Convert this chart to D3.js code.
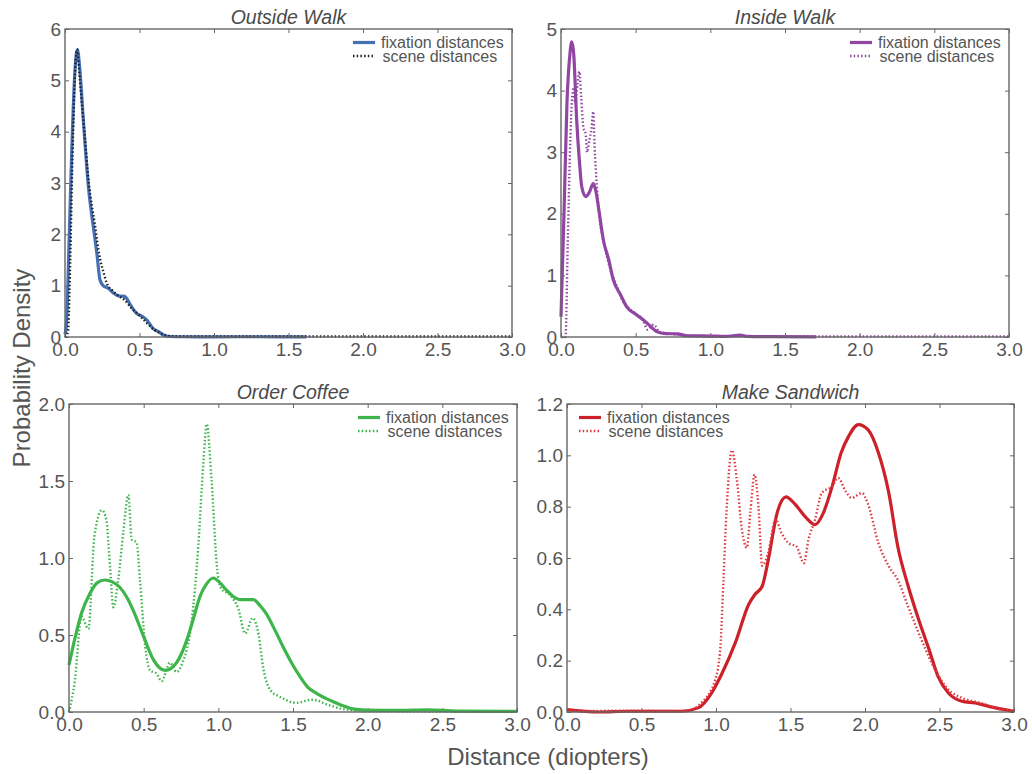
<!DOCTYPE html>
<html>
<head>
<meta charset="utf-8">
<script src="https://cdn.jsdelivr.net/npm/d3@7"></script>
<style>
  body { margin: 0; background: #fff; }
  svg { font-family: "Liberation Sans", Arial, sans-serif; }
  .tick text { fill: #555; font-size: 19px; }
  .tick line { stroke: #666; stroke-width: 1; }
  .title { fill: #4a4a4a; font-size: 19.5px; font-style: italic; text-anchor: middle; }
  .axlabel { fill: #555; font-size: 24px; text-anchor: middle; }
  .legend text { fill: #555; font-size: 16px; }
</style>
</head>
<body>
<svg id="chart" width="1032" height="774"></svg>
<script>

var xTicks = [0, 0.5, 1.0, 1.5, 2.0, 2.5, 3.0];
var legendLabels = ["fixation distances", "scene distances"];

// Outside Walk
var outsideFixation = [[0,0.05],[0.011,0.33],[0.025,1.6],[0.045,3.6],[0.067,5.2],[0.083,5.6],[0.1,5.2],[0.123,4.23],
  [0.157,2.93],[0.19,2.15],[0.215,1.6],[0.235,1.11],[0.257,1.0],[0.29,0.95],[0.324,0.86],[0.36,0.8],[0.40,0.79],
  [0.44,0.62],[0.48,0.46],[0.52,0.4],[0.55,0.33],[0.59,0.17],[0.63,0.1],[0.66,0.04],[0.7,0.01],[0.8,0.005],
  [1.0,0.004],[1.3,0.005],[1.62,0.003]];
var outsideScene = [[0.0,0],[0.02,0.1],[0.035,1.5],[0.05,3.5],[0.07,5.3],[0.082,5.6],[0.1,5.0],[0.13,4.0],[0.16,3.0],
  [0.2,2.2],[0.23,1.6],[0.26,1.25],[0.28,1.05],[0.32,0.9],[0.36,0.8],[0.4,0.72],[0.45,0.55],[0.5,0.42],[0.55,0.27],
  [0.6,0.14],[0.65,0.06],[0.7,0.02],[0.8,0.01],[1.5,0.01],[2.5,0.01],[3.0,0.01]];

// Inside Walk
var insideFixation = [[0,0.33],[0.02,2.0],[0.04,3.8],[0.06,4.6],[0.072,4.79],[0.085,4.6],[0.105,3.52],[0.125,2.8],
  [0.139,2.44],[0.165,2.28],[0.19,2.35],[0.216,2.49],[0.235,2.35],[0.25,2.12],[0.284,1.57],[0.32,1.25],[0.35,0.93],
  [0.4,0.68],[0.44,0.49],[0.5,0.37],[0.55,0.28],[0.6,0.17],[0.64,0.09],[0.7,0.055],[0.78,0.05],[0.85,0.02],
  [1.0,0.015],[1.1,0.01],[1.2,0.03],[1.25,0.01],[1.4,0.005],[1.71,0.003]];
var insideScene = [[0,0],[0.03,0.0],[0.045,1.5],[0.06,3.0],[0.075,3.9],[0.085,4.05],[0.095,3.8],[0.11,4.1],[0.123,4.31],
  [0.135,3.9],[0.15,3.4],[0.165,3.3],[0.175,3.0],[0.19,3.2],[0.205,3.4],[0.216,3.66],[0.225,3.1],[0.24,2.45],
  [0.26,1.9],[0.29,1.5],[0.33,1.1],[0.37,0.85],[0.41,0.6],[0.45,0.48],[0.5,0.38],[0.55,0.27],[0.58,0.12],[0.62,0.2],
  [0.66,0.08],[0.72,0.06],[0.8,0.03],[1.0,0.015],[1.5,0.01],[2.0,0.01],[3.0,0.01]];

// Order Coffee
var coffeeFixation = [[0,0.305],[0.04,0.48],[0.083,0.64],[0.14,0.77],[0.19,0.84],[0.24,0.857],[0.29,0.845],[0.34,0.81],
  [0.39,0.74],[0.43,0.66],[0.5,0.49],[0.565,0.34],[0.643,0.27],[0.72,0.32],[0.79,0.47],[0.84,0.63],[0.877,0.75],
  [0.92,0.83],[0.966,0.87],[1.01,0.84],[1.056,0.79],[1.1,0.75],[1.145,0.73],[1.19,0.73],[1.234,0.73],[1.28,0.69],
  [1.32,0.64],[1.38,0.53],[1.435,0.42],[1.49,0.32],[1.547,0.23],[1.6,0.16],[1.66,0.12],[1.77,0.067],[1.85,0.035],
  [1.9,0.02],[1.99,0.012],[2.2,0.01],[2.4,0.014],[2.6,0.006],[3.0,0.004]];
var coffeeScene = [[0,0],[0.04,0.21],[0.083,0.62],[0.13,0.54],[0.17,1.14],[0.22,1.31],[0.25,1.25],[0.275,0.94],
  [0.297,0.68],[0.33,0.86],[0.364,1.17],[0.397,1.41],[0.42,1.12],[0.453,1.1],[0.475,0.86],[0.51,0.43],[0.543,0.27],
  [0.586,0.25],[0.62,0.2],[0.676,0.32],[0.72,0.26],[0.76,0.32],[0.82,0.58],[0.866,1.08],[0.9,1.62],[0.922,1.87],
  [0.955,1.5],[0.99,0.95],[1.02,0.8],[1.078,0.76],[1.134,0.67],[1.18,0.51],[1.23,0.61],[1.27,0.5],[1.3,0.29],
  [1.35,0.14],[1.41,0.1],[1.52,0.06],[1.63,0.08],[1.74,0.045],[1.83,0.02],[2.0,0.005],[2.5,0.003],[3.0,0.003]];

// Make Sandwich
var sandwichFixation = [[0,0.009],[0.21,0],[0.41,0.003],[0.77,0.003],[0.88,0.016],[0.97,0.074],[1.04,0.15],[1.13,0.27],
  [1.22,0.42],[1.26,0.457],[1.31,0.49],[1.35,0.59],[1.41,0.775],[1.47,0.838],[1.53,0.81],[1.6,0.76],[1.665,0.73],
  [1.72,0.775],[1.78,0.88],[1.84,1.01],[1.89,1.074],[1.956,1.12],[2.02,1.1],[2.09,1.01],[2.16,0.853],[2.22,0.645],
  [2.29,0.49],[2.36,0.36],[2.43,0.243],[2.49,0.139],[2.56,0.074],[2.65,0.042],[2.74,0.035],[2.83,0.022],[3.0,0.003]];
var sandwichScene = [[0,0.003],[0.4,0.005],[0.8,0.004],[0.9,0.035],[0.995,0.126],[1.03,0.256],[1.05,0.515],[1.07,0.775],
  [1.107,1.02],[1.14,0.905],[1.174,0.71],[1.207,0.64],[1.23,0.775],[1.259,0.925],[1.285,0.8],[1.31,0.57],[1.35,0.62],
  [1.4,0.75],[1.44,0.697],[1.487,0.658],[1.54,0.645],[1.59,0.58],[1.62,0.67],[1.665,0.75],[1.71,0.853],[1.78,0.88],
  [1.82,0.912],[1.87,0.86],[1.91,0.834],[1.98,0.853],[2.02,0.81],[2.09,0.658],[2.16,0.567],[2.22,0.515],[2.29,0.41],
  [2.38,0.28],[2.47,0.165],[2.56,0.087],[2.65,0.055],[2.78,0.035],[2.87,0.016],[3.0,0.003]];

var panels = [
  {title: "Outside Walk", fix: outsideFixation, scene: outsideScene, color: "#4670b4", sceneColor: "#222",
   box: [65, 29, 512, 337], yMax: 6, yStep: 1, yFmt: "d", legend: "right"},
  {title: "Inside Walk", fix: insideFixation, scene: insideScene, color: "#9146a2", sceneColor: "#9146a2",
   box: [561, 29, 1009, 337], yMax: 5, yStep: 1, yFmt: "d", legend: "right"},
  {title: "Order Coffee", fix: coffeeFixation, scene: coffeeScene, color: "#3db54a", sceneColor: "#3db54a",
   box: [69, 404, 517, 712], yMax: 2, yStep: 0.5, yFmt: ".1f", legend: "right"},
  {title: "Make Sandwich", fix: sandwichFixation, scene: sandwichScene, color: "#cc2129", sceneColor: "#dd3a42",
   box: [567, 404, 1014, 712], yMax: 1.2, yStep: 0.2, yFmt: ".1f", legend: "left"}
];

var svg = d3.select("#chart");

function drawPanel(p) {
  var x0 = p.box[0], y0 = p.box[1], x1 = p.box[2], y1 = p.box[3];

  var xScale = d3.scaleLinear().domain([0, 3]).range([x0, x1]);
  var yScale = d3.scaleLinear().domain([0, p.yMax]).range([y1, y0]);
  var yTicks = d3.range(0, p.yMax + p.yStep / 2, p.yStep);

  var g = svg.append("g");

  // axes with inward ticks on all four sides
  g.append("g")
   .attr("transform", "translate(0," + y1 + ")")
   .call(d3.axisBottom(xScale).tickValues(xTicks).tickFormat(d3.format(".1f")).tickSize(-4).tickPadding(6))
   .call(function(a){ a.select(".domain").remove(); });

  g.append("g")
   .attr("transform", "translate(" + x0 + ",0)")
   .call(d3.axisLeft(yScale).tickValues(yTicks).tickFormat(d3.format(p.yFmt)).tickSize(-4).tickPadding(4))
   .call(function(a){ a.select(".domain").remove(); });

  g.append("g")
   .attr("transform", "translate(0," + y0 + ")")
   .call(d3.axisTop(xScale).tickValues(xTicks).tickFormat("").tickSize(-4))
   .call(function(a){ a.select(".domain").remove(); });

  g.append("g")
   .attr("transform", "translate(" + x1 + ",0)")
   .call(d3.axisRight(yScale).tickValues(yTicks).tickFormat("").tickSize(-4))
   .call(function(a){ a.select(".domain").remove(); });

  g.selectAll(".tick text").attr("font-size", null).attr("font-family", null);

  var line = d3.line()
               .x(function(d){ return xScale(d[0]); })
               .y(function(d){ return yScale(d[1]); })
               .curve(d3.curveMonotoneX);

  g.append("path")
   .datum(p.fix)
   .attr("d", line)
   .attr("fill", "none")
   .attr("stroke", p.color)
   .attr("stroke-width", 3.2)
   .attr("stroke-linejoin", "round");

  g.append("path")
   .datum(p.scene)
   .attr("d", line)
   .attr("fill", "none")
   .attr("stroke", p.sceneColor)
   .attr("stroke-width", 2.4)
   .attr("stroke-dasharray", "1.5,2.2");

  // frame
  g.append("rect")
   .attr("x", x0)
   .attr("y", y0)
   .attr("width", x1 - x0)
   .attr("height", y1 - y0)
   .attr("fill", "none")
   .attr("stroke", "#666")
   .attr("stroke-width", 1.4);

  g.append("text")
   .attr("class", "title")
   .attr("x", (x0 + x1) / 2)
   .attr("y", y0 - 5)
   .text(p.title);

  // legend
  var lx = p.legend == "right" ? x1 - 159 : x0 + 12;
  var leg = g.append("g").attr("class", "legend");

  leg.append("line")
     .attr("x1", lx).attr("x2", lx + 22)
     .attr("y1", y0 + 13.5).attr("y2", y0 + 13.5)
     .attr("stroke", p.color)
     .attr("stroke-width", 3.2);

  leg.append("line")
     .attr("x1", lx).attr("x2", lx + 20)
     .attr("y1", y0 + 27).attr("y2", y0 + 27)
     .attr("stroke", p.sceneColor)
     .attr("stroke-width", 2.4)
     .attr("stroke-dasharray", "1.5,2.2");

  leg.selectAll("text")
     .data(legendLabels)
     .enter()
     .append("text")
     .attr("x", function(d, i){ return lx + 28 + i * 1.5; })
     .attr("y", function(d, i){ return y0 + 19 + i * 14; })
     .text(function(d){ return d; });
}

panels.forEach(drawPanel);

svg.append("text")
   .attr("class", "axlabel")
   .attr("x", 548)
   .attr("y", 765)
   .text("Distance (diopters)");

svg.append("text")
   .attr("class", "axlabel")
   .attr("transform", "translate(30,368) rotate(-90)")
   .text("Probability Density");

</script>
</body>
</html>
